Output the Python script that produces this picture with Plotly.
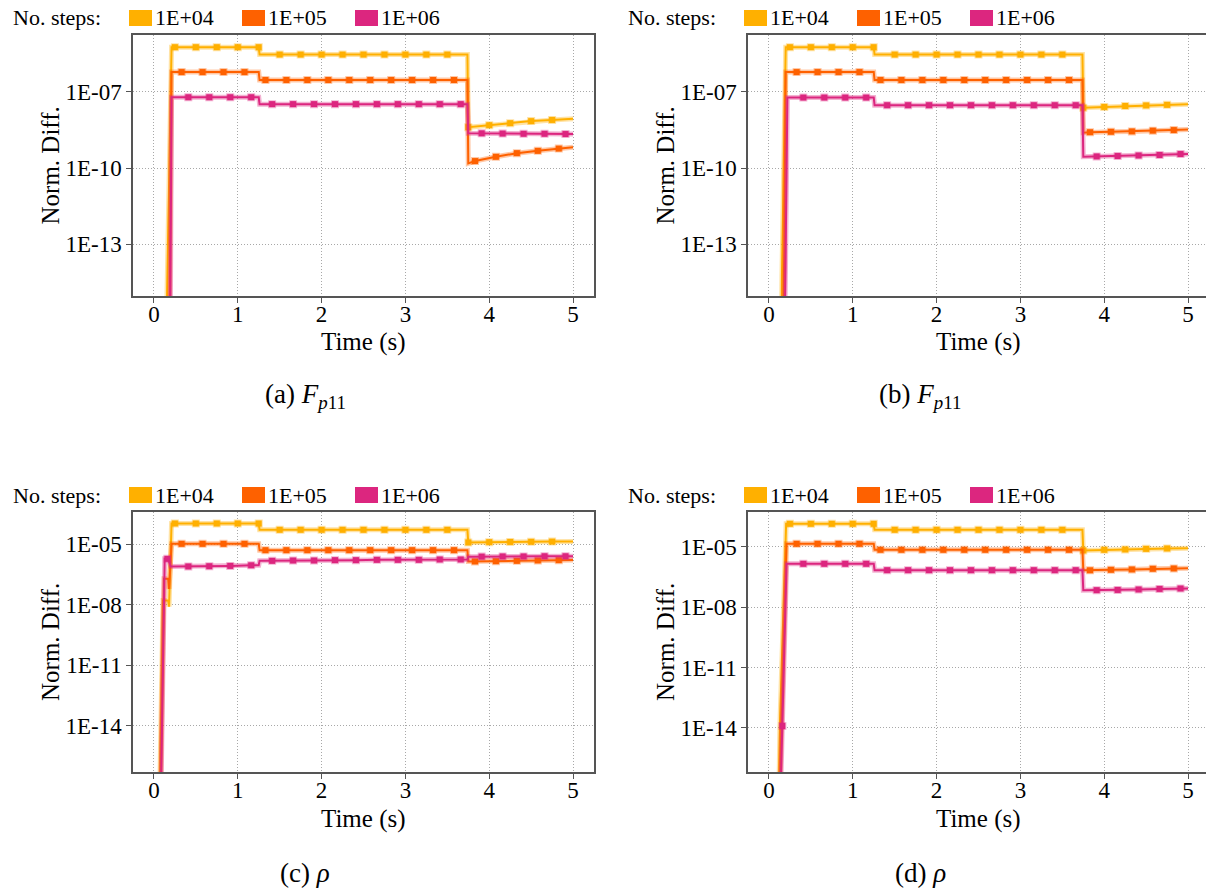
import plotly.graph_objects as go

W, H = 1206, 890

# ---------------- data ----------------
SERIES = ["1E+04", "1E+05", "1E+06"]
COLORS = ["#FFB000", "#FE6100", "#DC267F"]
HALO = ["rgba(255,176,0,0.35)", "rgba(254,97,0,0.35)", "rgba(220,38,127,0.35)"]

X_TICKS = [0, 1, 2, 3, 4, 5]
X_TICK_TEXT = ["0", "1", "2", "3", "4", "5"]
Y_TICKS_AB = [1e-13, 1e-10, 1e-7]
Y_TICK_TEXT_AB = ["1E-13", "1E-10", "1E-07"]
Y_TICKS_CD = [1e-14, 1e-11, 1e-8, 1e-5]
Y_TICK_TEXT_CD = ["1E-14", "1E-11", "1E-08", "1E-05"]

# marker times of each series
MK_T_1E4 = [0.25, 0.5, 0.75, 1.0, 1.25, 1.5, 1.75, 2.0, 2.25, 2.5, 2.75, 3.0, 3.25, 3.5,
            3.75, 4.0, 4.25, 4.5, 4.75]
MK_T_1E5 = [0.33, 0.58, 0.83, 1.08, 1.33, 1.58, 1.83, 2.08, 2.33, 2.58, 2.83, 3.08, 3.33, 3.58,
            3.83, 4.08, 4.33, 4.58, 4.83]
MK_T_1E6 = [0.16, 0.41, 0.66, 0.91, 1.16, 1.41, 1.66, 1.91, 2.16, 2.41, 2.66, 2.91, 3.16, 3.41,
            3.66, 3.91, 4.16, 4.41, 4.66, 4.91]

# ---- panel (a) ----
A_1E4_T = [0.15, 0.16, 0.21, 1.26, 3.74, 5.0]
A_1E4_V = [1e-16, 6e-15, 5.75e-6, 2.95e-6, 2.95e-6, 8.9e-9]
A_1E4_MK = [5.75e-6, 5.75e-6, 5.75e-6, 5.75e-6, 5.75e-6,
            2.95e-6, 2.95e-6, 2.95e-6, 2.95e-6, 2.95e-6, 2.95e-6, 2.95e-6, 2.95e-6, 2.95e-6,
            4.1e-9, 4.9e-9, 5.9e-9, 7.1e-9, 7.9e-9]
A_1E5_T = [0.185, 0.19, 0.21, 1.25, 1.26, 3.74, 3.75, 5.0]
A_1E5_V = [1e-16, 7e-14, 6.03e-7, 6.03e-7, 2.95e-7, 2.95e-7, 1.55e-10, 6.6e-10]
A_1E5_MK = [6.03e-7, 6.03e-7, 6.03e-7, 6.03e-7,
            2.95e-7, 2.95e-7, 2.95e-7, 2.95e-7, 2.95e-7, 2.95e-7, 2.95e-7, 2.95e-7, 2.95e-7, 2.95e-7,
            1.9e-10, 2.8e-10, 3.9e-10, 4.8e-10, 5.9e-10]
A_1E6_T = [0.195, 0.21, 1.25, 1.26, 3.74, 3.75, 5.0]
A_1E6_V = [1e-16, 6.17e-8, 6.17e-8, 3.31e-8, 3.31e-8, 2.35e-9, 2.2e-9]
A_1E6_MK = [1e-17, 6.17e-8, 6.17e-8, 6.17e-8, 6.17e-8,
            3.31e-8, 3.31e-8, 3.31e-8, 3.31e-8, 3.31e-8, 3.31e-8, 3.31e-8, 3.31e-8, 3.31e-8, 3.31e-8,
            2.35e-9, 2.3e-9, 2.25e-9, 2.25e-9, 2.2e-9]

# ---- panel (b) ----
B_1E4_T = [0.15, 0.155, 0.20, 1.26, 3.74, 5.0]
B_1E4_V = [1e-16, 6e-15, 5.75e-6, 2.95e-6, 2.95e-6, 3.3e-8]
B_1E4_MK = [5.75e-6, 5.75e-6, 5.75e-6, 5.75e-6, 5.75e-6,
            2.95e-6, 2.95e-6, 2.95e-6, 2.95e-6, 2.95e-6, 2.95e-6, 2.95e-6, 2.95e-6, 2.95e-6,
            2.4e-8, 2.57e-8, 2.8e-8, 2.95e-8, 3.1e-8]
B_1E5_T = [0.17, 0.183, 0.20, 1.25, 1.26, 3.74, 3.75, 5.0]
B_1E5_V = [1e-16, 6e-14, 6.03e-7, 6.03e-7, 2.95e-7, 2.95e-7, 2.5e-9, 3.3e-9]
B_1E5_MK = [6.03e-7, 6.03e-7, 6.03e-7, 6.03e-7,
            2.95e-7, 2.95e-7, 2.95e-7, 2.95e-7, 2.95e-7, 2.95e-7, 2.95e-7, 2.95e-7, 2.95e-7, 2.95e-7,
            2.6e-9, 2.7e-9, 2.8e-9, 3.0e-9, 3.15e-9]
B_1E6_T = [0.19, 0.22, 1.25, 1.26, 3.74, 3.75, 5.0]
B_1E6_V = [1e-16, 6.0e-8, 6.0e-8, 3.0e-8, 3.0e-8, 2.8e-10, 3.6e-10]
B_1E6_MK = [1e-17, 6.0e-8, 6.0e-8, 6.0e-8, 6.0e-8,
            3.0e-8, 3.0e-8, 3.0e-8, 3.0e-8, 3.0e-8, 3.0e-8, 3.0e-8, 3.0e-8, 3.0e-8, 3.0e-8,
            2.9e-10, 3.0e-10, 3.15e-10, 3.3e-10, 3.6e-10]

# ---- panel (c) ----
C_1E4_T = [0.07, 0.108, 0.17, 0.18, 0.21, 1.26, 3.74, 5.0]
C_1E4_V = [1e-17, 1.6e-8, 1.6e-8, 7.9e-9, 1.05e-4, 5.1e-5, 5.1e-5, 1.35e-5]
C_1E4_MK = [1.05e-4, 1.05e-4, 1.05e-4, 1.05e-4, 1.05e-4,
            5.1e-5, 5.1e-5, 5.1e-5, 5.1e-5, 5.1e-5, 5.1e-5, 5.1e-5, 5.1e-5, 5.1e-5,
            1.2e-5, 1.25e-5, 1.28e-5, 1.3e-5, 1.33e-5]
C_1E5_T = [0.08, 0.12, 0.17, 0.18, 0.21, 1.25, 1.26, 3.74, 3.75, 5.0]
C_1E5_V = [1e-17, 1.9e-7, 1.9e-7, 6e-8, 1.03e-5, 1.03e-5, 5.0e-6, 5.0e-6, 1.38e-6, 1.62e-6]
C_1E5_MK = [1.03e-5, 1.03e-5, 1.03e-5, 1.03e-5,
            5.0e-6, 5.0e-6, 5.0e-6, 5.0e-6, 5.0e-6, 5.0e-6, 5.0e-6, 5.0e-6, 5.0e-6, 5.0e-6,
            1.38e-6, 1.42e-6, 1.48e-6, 1.55e-6, 1.6e-6]
C_1E6_T = [0.085, 0.128, 0.17, 0.20, 1.25, 1.26, 3.74, 3.75, 5.0]
C_1E6_V = [1e-17, 1.86e-6, 1.86e-6, 7.8e-7, 8.9e-7, 1.48e-6, 1.73e-6, 2.35e-6, 2.5e-6]
C_1E6_MK = [1.86e-6, 7.8e-7, 8.0e-7, 8.3e-7, 8.9e-7,
            1.48e-6, 1.54e-6, 1.54e-6, 1.6e-6, 1.6e-6, 1.66e-6, 1.66e-6, 1.66e-6, 1.73e-6, 1.73e-6,
            2.4e-6, 2.45e-6, 2.45e-6, 2.5e-6, 2.5e-6]

# ---- panel (d) ----
D_1E4_T = [0.12, 0.13, 0.205, 1.26, 3.74, 5.0]
D_1E4_V = [1e-17, 1.1e-14, 1.39e-4, 7.0e-5, 7.0e-5, 8.6e-6]
D_1E4_MK = [1.39e-4, 1.39e-4, 1.39e-4, 1.39e-4, 1.39e-4,
            7.0e-5, 7.0e-5, 7.0e-5, 7.0e-5, 7.0e-5, 7.0e-5, 7.0e-5, 7.0e-5, 7.0e-5,
            6.6e-6, 7.1e-6, 7.4e-6, 7.9e-6, 8.3e-6]
D_1E5_T = [0.13, 0.21, 1.25, 1.26, 3.74, 3.75, 5.0]
D_1E5_V = [1e-17, 1.41e-5, 1.41e-5, 7.1e-6, 7.1e-6, 6.8e-7, 8.7e-7]
D_1E5_MK = [1.41e-5, 1.41e-5, 1.41e-5, 1.41e-5,
            7.1e-6, 7.1e-6, 7.1e-6, 7.1e-6, 7.1e-6, 7.1e-6, 7.1e-6, 7.1e-6, 7.1e-6, 7.1e-6,
            6.8e-7, 7.2e-7, 7.5e-7, 8.1e-7, 8.4e-7]
D_1E6_T = [0.14, 0.21, 1.25, 1.26, 3.74, 3.75, 5.0]
D_1E6_V = [1e-17, 1.43e-6, 1.43e-6, 6.9e-7, 6.9e-7, 7.0e-8, 8.5e-8]
D_1E6_MK = [1.25e-14, 1.43e-6, 1.43e-6, 1.43e-6, 1.43e-6,
            6.9e-7, 6.9e-7, 6.9e-7, 6.9e-7, 6.9e-7, 6.9e-7, 6.9e-7, 6.9e-7, 6.9e-7, 6.9e-7,
            7.0e-8, 7.2e-8, 7.6e-8, 8.1e-8, 8.5e-8]

CAPTIONS = ["(a) <i>F</i><sub><i>p</i>11</sub>", "(b) <i>F</i><sub><i>p</i>11</sub>",
            "(c) <i>ρ</i>", "(d) <i>ρ</i>"]
X_TITLE = "Time (s)"
Y_TITLE = "Norm. Diff."
LEGEND_TITLE = "No. steps:"

# ---------------- layout helpers ----------------
FONT = "Liberation Serif"


def px(x):
    return x / W


def py(y):
    return 1 - y / H


MK_T = [MK_T_1E4, MK_T_1E5, MK_T_1E6]
PANELS = [
    dict(ax="", line=[(A_1E4_T, A_1E4_V), (A_1E5_T, A_1E5_V), (A_1E6_T, A_1E6_V)],
         mk=[A_1E4_MK, A_1E5_MK, A_1E6_MK], dx=0, dy=0, x0=133, x1=594, y0=35, y1=296,
         xr=[-0.25, 5.25], yr=[-15.03, -4.76], yt=Y_TICKS_AB, ytt=Y_TICK_TEXT_AB, right=True),
    dict(ax="2", line=[(B_1E4_T, B_1E4_V), (B_1E5_T, B_1E5_V), (B_1E6_T, B_1E6_V)],
         mk=[B_1E4_MK, B_1E5_MK, B_1E6_MK], dx=615, dy=0, x0=748, x1=1206, y0=35, y1=296,
         xr=[-0.25, 5.214], yr=[-15.03, -4.76], yt=Y_TICKS_AB, ytt=Y_TICK_TEXT_AB, right=False),
    dict(ax="3", line=[(C_1E4_T, C_1E4_V), (C_1E5_T, C_1E5_V), (C_1E6_T, C_1E6_V)],
         mk=[C_1E4_MK, C_1E5_MK, C_1E6_MK], dx=0, dy=477, x0=133, x1=594, y0=512, y1=772,
         xr=[-0.25, 5.25], yr=[-16.29, -3.41], yt=Y_TICKS_CD, ytt=Y_TICK_TEXT_CD, right=True),
    dict(ax="4", line=[(D_1E4_T, D_1E4_V), (D_1E5_T, D_1E5_V), (D_1E6_T, D_1E6_V)],
         mk=[D_1E4_MK, D_1E5_MK, D_1E6_MK], dx=615, dy=477, x0=748, x1=1206, y0=512, y1=772,
         xr=[-0.25, 5.214], yr=[-16.19, -3.27], yt=Y_TICKS_CD, ytt=Y_TICK_TEXT_CD, right=False),
]

fig = go.Figure()
layout = dict(width=W, height=H, margin=dict(l=0, r=0, t=0, b=0),
              paper_bgcolor="white", plot_bgcolor="white", showlegend=False,
              font=dict(family=FONT, color="black"))
shapes = []
annotations = []

for p in PANELS:
    xa, ya = "x" + p["ax"], "y" + p["ax"]
    for i in range(3):
        lt, lv = p["line"][i]
        pts = dict(zip(lt, lv))
        pts.update(dict(zip(MK_T[i], p["mk"][i])))
        ts = sorted(pts)
        vs = [pts[t] for t in ts]
        fig.add_trace(go.Scatter(x=ts, y=vs, mode="lines", xaxis=xa, yaxis=ya,
                                 line=dict(color=HALO[i], width=5), hoverinfo="skip"))
        fig.add_trace(go.Scatter(x=ts, y=vs, mode="lines", xaxis=xa, yaxis=ya, name=SERIES[i],
                                 line=dict(color=COLORS[i], width=2)))
        fig.add_trace(go.Scatter(x=MK_T[i], y=p["mk"][i], mode="markers", xaxis=xa, yaxis=ya,
                                 marker=dict(symbol="square", size=6, color=COLORS[i],
                                             line=dict(color=HALO[i], width=2)),
                                 hoverinfo="skip"))
    key = p["ax"]
    axcommon = dict(showline=True, linecolor="#555555", linewidth=1.5,
                    showgrid=True, gridcolor="#a8a8a8", griddash="1px,2px", gridwidth=1,
                    zeroline=False, ticks="outside", ticklen=5, tickwidth=1, tickcolor="#555555",
                    tickfont=dict(family=FONT, size=23, color="black"))
    layout["xaxis" + key] = dict(axcommon, domain=[px(p["x0"]), px(p["x1"])], range=p["xr"],
                                 anchor=ya, mirror=True, tickvals=X_TICKS, ticktext=X_TICK_TEXT,
                                 ticklabelstandoff=-8)
    layout["yaxis" + key] = dict(axcommon, domain=[py(p["y1"]), py(p["y0"])], range=p["yr"],
                                 type="log", anchor=xa, mirror=p["right"],
                                 tickvals=p["yt"], ticktext=p["ytt"])

    dx, dy = p["dx"], p["dy"]
    # legend
    annotations.append(dict(text=LEGEND_TITLE, x=px(11 + dx), y=py(18 + dy), xref="paper",
                            yref="paper", xanchor="left", yanchor="middle", showarrow=False,
                            font=dict(family=FONT, size=22, color="black")))
    for i, x0 in enumerate([129, 242, 355]):
        shapes.append(dict(type="rect", xref="paper", yref="paper",
                           x0=px(x0 + dx), x1=px(x0 + 23 + dx), y0=py(26 + dy), y1=py(10 + dy),
                           fillcolor=COLORS[i], line=dict(width=0)))
        annotations.append(dict(text=SERIES[i], x=px(x0 + 24 + dx), y=py(18 + dy), xref="paper",
                                yref="paper", xanchor="left", yanchor="middle", showarrow=False,
                                font=dict(family=FONT, size=22, color="black")))
    # axis titles
    xc = (p["x0"] + (p["x1"] if p["right"] else 1208)) / 2
    annotations.append(dict(text=X_TITLE, x=px(xc), y=py(342 + dy), xref="paper", yref="paper",
                            xanchor="center", yanchor="middle", showarrow=False,
                            font=dict(family=FONT, size=25, color="black")))
    annotations.append(dict(text=Y_TITLE, x=px(50 + dx), y=py((p["y0"] + p["y1"]) / 2),
                            xref="paper", yref="paper", xanchor="center", yanchor="middle",
                            textangle=-90, showarrow=False,
                            font=dict(family=FONT, size=25, color="black")))

for k, (cx, cy) in enumerate([(305, 396), (920, 396), (305, 873), (920, 873)]):
    annotations.append(dict(text=CAPTIONS[k], x=px(cx), y=py(cy), xref="paper", yref="paper",
                            xanchor="center", yanchor="middle", showarrow=False,
                            font=dict(family=FONT, size=27, color="black")))

layout["shapes"] = shapes
layout["annotations"] = annotations
fig.update_layout(**layout)
fig.write_html("out.html")
